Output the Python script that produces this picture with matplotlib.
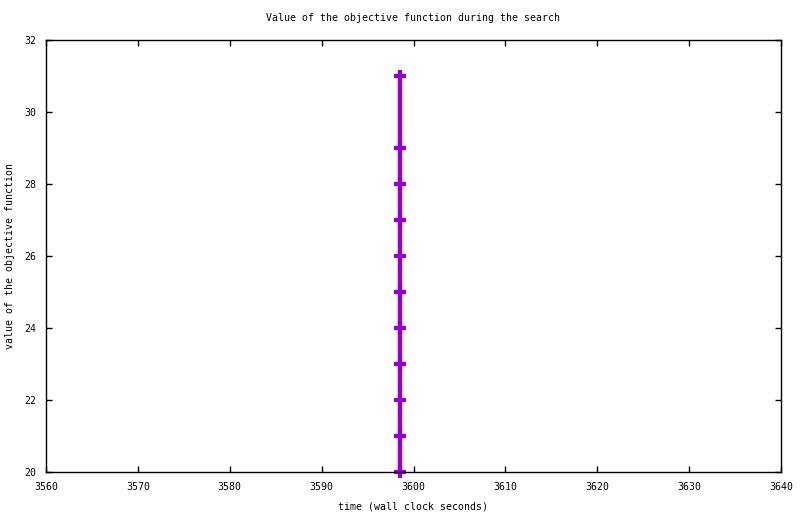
import matplotlib
matplotlib.use('Agg')
import matplotlib.pyplot as plt

# search trace: wall clock time vs objective value
times = [3598.5, 3598.5, 3598.5, 3598.5, 3598.5, 3598.5, 3598.5, 3598.5, 3598.5, 3598.5, 3598.5]
values = [31, 29, 28, 27, 26, 25, 24, 23, 22, 21, 20]
xticks = [3560, 3570, 3580, 3590, 3600, 3610, 3620, 3630, 3640]
yticks = [20, 22, 24, 26, 28, 30, 32]

plt.rcParams['font.family'] = ['DejaVu Sans Mono']
plt.rcParams['font.size'] = 7.1

fig = plt.figure(figsize=(8, 5.14), dpi=100)
ax = fig.add_axes([46/800, 42/514, (781-46)/800, (472-40)/514])
ax.plot(times, values, '-', color='#9400d3', lw=3.2, marker='+', ms=8, mew=3,
        clip_on=False)
ax.set_xlim(3560, 3640); ax.set_ylim(20, 32)
ax.set_xticks(xticks); ax.set_yticks(yticks)
ax.tick_params(direction='in', length=4, width=1, top=True, right=True, pad=7)
for s in ax.spines.values():
    s.set_linewidth(1)
ax.set_title('Value of the objective function during the search', fontsize=7.1, pad=14)
ax.set_xlabel('time (wall clock seconds)', labelpad=7)
ax.set_ylabel('value of the objective function', labelpad=7)
fig.savefig('out.png', dpi=100)
